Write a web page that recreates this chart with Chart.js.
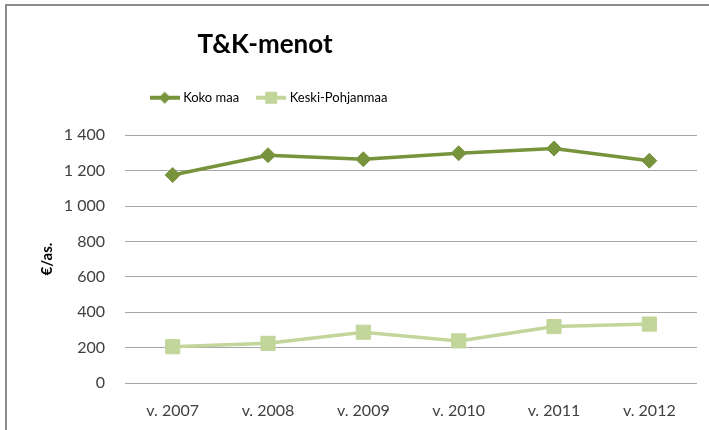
<!DOCTYPE html>
<html>
<head>
<meta charset="utf-8">
<script src="https://cdn.jsdelivr.net/npm/chart.js@4"></script>
<style>
  html, body { margin: 0; padding: 0; background: #fff; }
  #wrap { position: relative; width: 709px; height: 430px; overflow: hidden; }
  #chart { position: absolute; left: 0; top: 0; }
  /* the reference is cut from a bigger sheet: only top + left frame shows */
  .frameTop  { position: absolute; left: 5px; top: 4px; width: 704px; height: 2px; background: #8c8c8c; }
  .frameLeft { position: absolute; left: 5px; top: 4px; width: 2px; height: 426px; background: #8c8c8c; }
</style>
</head>
<body>
<div id="wrap">
  <canvas id="chart" width="709" height="430"></canvas>
  <div class="frameTop"></div>
  <div class="frameLeft"></div>
</div>

<script>
// ── DATA ─────────────────────────────────────────────
const years        = ['v. 2007', 'v. 2008', 'v. 2009', 'v. 2010', 'v. 2011', 'v. 2012'];
const kokoMaa      = [1175, 1287, 1264, 1298, 1325, 1256];
const keskiPohjanm = [205, 224, 287, 238, 319, 333];
const yTicks       = [0, 200, 400, 600, 800, 1000, 1200, 1400];

const DARK  = '#77933c';
const LIGHT = '#c2d69b';
const FONT  = 'Lato';

// Excel-style legend key: short line with the marker in the middle
function legendKey(color, shape) {
  const c = document.createElement('canvas');
  c.width = 30; c.height = 14;
  const g = c.getContext('2d');
  g.strokeStyle = color; g.fillStyle = color; g.lineWidth = 4;
  g.beginPath(); g.moveTo(0, 7); g.lineTo(30, 7); g.stroke();
  if (shape === 'diamond') {
    g.beginPath(); g.moveTo(15, 1); g.lineTo(21, 7); g.lineTo(15, 13); g.lineTo(9, 7); g.closePath(); g.fill();
  } else {
    g.fillRect(9, 1, 12, 12);
  }
  return c;
}
const keys = [legendKey(DARK, 'diamond'), legendKey(LIGHT, 'square')];

// format 1400 -> "1 400"
function fmt(v) { return String(v).replace(/\B(?=(\d{3})+(?!\d))/g, ' '); }

// extra room below the legend
const legendGap = {
  id: 'legendGap',
  beforeInit(chart) {
    const fit = chart.legend.fit;
    chart.legend.fit = function () { fit.bind(chart.legend)(); this.height += 21; };
  }
};

// in the original the title + legend sit left of the page centre (~x 265)
const headerShift = {
  id: 'headerShift',
  beforeDraw(chart) {
    if (chart.titleBlock) { chart.titleBlock.left = 0; chart.titleBlock.right = 530; }
    if (chart.legend)     { chart.legend.left = 0;     chart.legend.right = 540; }
  }
};

new Chart(document.getElementById('chart'), {
  type: 'line',
  data: {
    labels: years,
    datasets: [
      {
        label: 'Koko maa',
        data: kokoMaa,
        borderColor: DARK,
        backgroundColor: DARK,
        borderWidth: 3.5,
        pointStyle: 'rectRot',
        pointRadius: 7.5,
        pointBorderWidth: 1,
        tension: 0
      },
      {
        label: 'Keski-Pohjanmaa',
        data: keskiPohjanm,
        borderColor: LIGHT,
        backgroundColor: LIGHT,
        borderWidth: 3.5,
        pointStyle: 'rect',
        pointRadius: 10,
        pointBorderWidth: 1,
        tension: 0
      }
    ]
  },
  options: {
    responsive: false,
    animation: false,
    layout: { padding: { left: 0, right: 12, top: 0, bottom: 0 } },
    plugins: {
      title: {
        display: true,
        text: 'T&K-menot',
        color: '#000',
        font: { family: FONT, size: 26, weight: 'bold' },
        padding: { top: 29, bottom: 11 }
      },
      legend: {
        position: 'top',
        labels: {
          usePointStyle: true,
          pointStyleWidth: 24,
          padding: 20,
          color: '#000',
          font: { family: FONT, size: 13 },
          generateLabels(chart) {
            return chart.data.datasets.map((ds, i) => ({
              text: ds.label,
              pointStyle: keys[i],
              datasetIndex: i,
              fontColor: '#000',
              lineWidth: 0,
              strokeStyle: 'transparent',
              fillStyle: ds.borderColor
            }));
          }
        }
      },
      tooltip: { enabled: false }
    },
    scales: {
      x: {
        offset: true,
        afterFit(scale) { scale.height = 47; },
        grid: { display: false, drawTicks: false },
        border: { display: false },
        ticks: { color: '#404040', padding: 18, font: { family: FONT, size: 16 } }
      },
      y: {
        min: 0,
        max: 1400,
        afterBuildTicks(scale) { scale.ticks = yTicks.map(v => ({ value: v })); },
        afterFit(scale) { scale.width = 125; },
        grid: { color: '#a6a6a6', lineWidth: 1, drawTicks: false },
        border: { display: false },
        ticks: {
          color: '#404040',
          padding: 20,
          font: { family: FONT, size: 16 },
          callback: v => fmt(v)
        },
        title: {
          display: true,
          text: '€/as.',
          color: '#000',
          font: { family: FONT, size: 15, weight: 'bold' },
          padding: { top: 38, bottom: 0 }
        }
      }
    }
  },
  plugins: [legendGap, headerShift]
});
</script>
</body>
</html>
